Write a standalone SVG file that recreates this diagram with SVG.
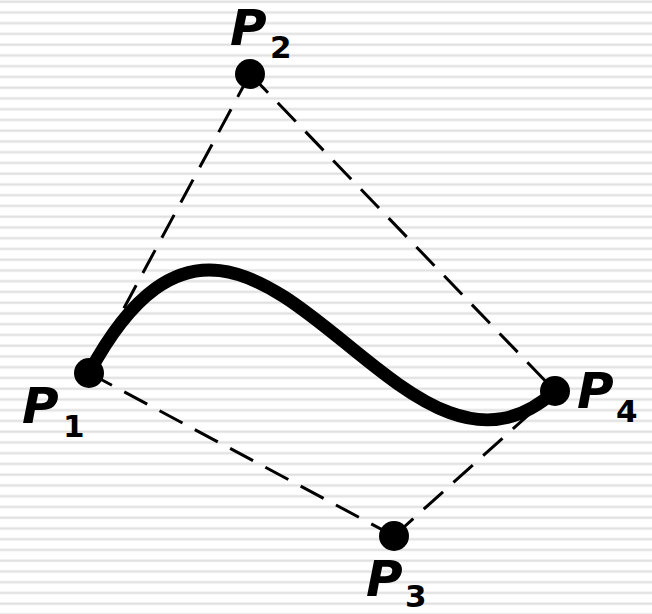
<svg xmlns="http://www.w3.org/2000/svg" width="652" height="614" viewBox="0 0 652 614">
  <defs>
    <pattern id="stripes" patternUnits="userSpaceOnUse" x="0" y="0" width="652" height="10.75">
      <rect x="0" y="0.2" width="652" height="3" fill="#eeeeee"/>
      <rect x="0" y="1" width="652" height="1.4" fill="#e0e0e0"/>
    </pattern>
  </defs>
  <style>
    .dash { stroke: #000; stroke-width: 3; stroke-dasharray: 26 14; fill: none; }
    .curve { stroke: #000; stroke-width: 13; fill: none; stroke-linejoin: round; stroke-linecap: butt; }
    .pt { fill: #000; }
    .lbl { font-family: "DejaVu Sans", Verdana, sans-serif; font-weight: bold; fill: #000; }
    .P { font-size: 50px; font-style: italic; }
    .sub { font-size: 31px; font-style: normal; }
  </style>
  <rect x="0" y="0" width="652" height="614" fill="#ffffff"/>
  <rect x="0" y="0" width="652" height="614" fill="url(#stripes)"/>
  <g id="connectors">
    <line class="dash" x1="250" y1="74" x2="89" y2="373"/>
    <line class="dash" x1="250" y1="74" x2="555" y2="391"/>
    <line class="dash" x1="89" y1="373" x2="394" y2="536"/>
    <line class="dash" x1="394" y1="536" x2="555" y2="391"/>
    <path class="curve" d="M89,373 C250,74 394,536 555,391"/>
  </g>
  <g id="P1">
    <circle class="pt" cx="89" cy="373" r="15"/>
    <text class="lbl P" x="22" y="423">P</text>
    <text class="lbl sub" x="63" y="437">1</text>
  </g>
  <g id="P2">
    <circle class="pt" cx="250" cy="74" r="15"/>
    <text class="lbl P" x="230" y="45">P</text>
    <text class="lbl sub" x="270" y="58">2</text>
  </g>
  <g id="P3">
    <circle class="pt" cx="394" cy="536" r="15"/>
    <text class="lbl P" x="366" y="596">P</text>
    <text class="lbl sub" x="405" y="607">3</text>
  </g>
  <g id="P4">
    <circle class="pt" cx="555" cy="391" r="15"/>
    <text class="lbl P" x="577" y="408">P</text>
    <text class="lbl sub" x="616" y="422">4</text>
  </g>
</svg>
